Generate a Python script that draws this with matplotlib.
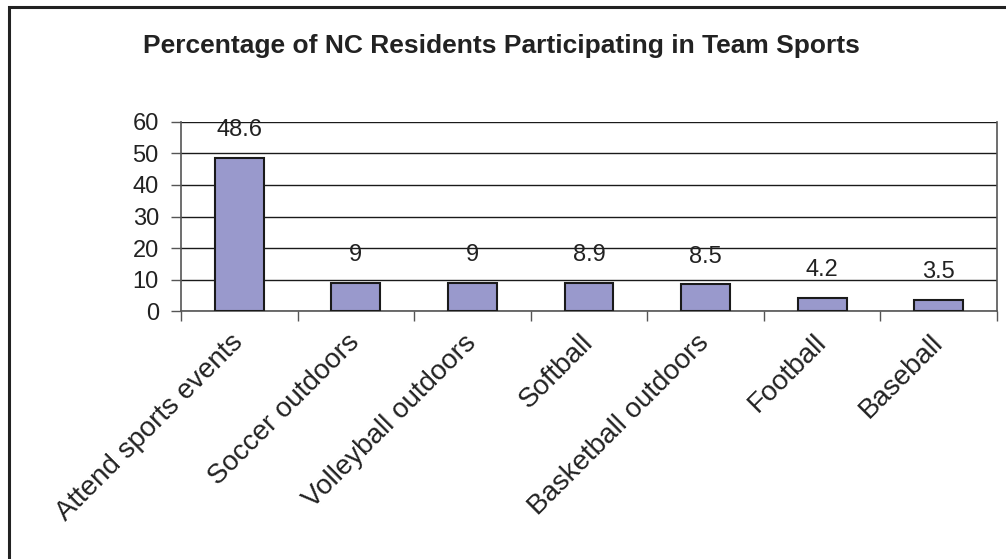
import matplotlib
matplotlib.use("Agg")
import matplotlib.pyplot as plt
from matplotlib.patches import Rectangle

categories = ["Attend sports events", "Soccer outdoors", "Volleyball outdoors",
              "Softball", "Basketball outdoors", "Football", "Baseball"]
values = [48.6, 9, 9, 8.9, 8.5, 4.2, 3.5]
value_labels = ["48.6", "9", "9", "8.9", "8.5", "4.2", "3.5"]
yticks = [0, 10, 20, 30, 40, 50, 60]

plt.rcParams['font.family'] = ['Liberation Sans', 'DejaVu Sans']

fig = plt.figure(figsize=(10.06, 5.59), dpi=100)
ax = fig.add_axes([0.18, 0.4436, 0.811, 0.3382])

x = list(range(len(categories)))
ax.bar(x, values, width=0.42, color="#9999CC", edgecolor="#1a1a1a", linewidth=1.5, zorder=3)

for xi, v, lab in zip(x, values, value_labels):
    ax.annotate(lab, (xi, v), xytext=(0, 12), textcoords="offset points",
                ha="center", va="bottom", fontsize=17, color="#222222", zorder=4)

ax.set_xlim(-0.5, len(categories) - 0.5)
ax.set_ylim(0, 60)
ax.set_yticks(yticks)
ax.set_yticklabels([str(t) for t in yticks], fontsize=17, color="#222222")
ax.yaxis.grid(True, color="#1a1a1a", linewidth=1.0, zorder=0)
ax.tick_params(axis="y", length=7, width=1, color="#555555", pad=9)

# category ticks at boundaries
ax.set_xticks([i - 0.5 for i in range(len(categories) + 1)], minor=False)
ax.set_xticklabels([""] * (len(categories) + 1))
ax.tick_params(axis="x", which="major", length=7, width=1, color="#555555")
ax.set_xticks(x, minor=True)
ax.set_xticklabels(categories, minor=True, rotation=45, ha="right", va="center",
                   rotation_mode="anchor", fontsize=20, color="#222222")
ax.tick_params(axis="x", which="minor", length=0, pad=20)

for s in ["left", "bottom", "right"]:
    ax.spines[s].set_color("#555555")
    ax.spines[s].set_linewidth(1.2)
ax.spines["top"].set_visible(False)

fig.text(0.498, 1 - 53 / 559, "Percentage of NC Residents Participating in Team Sports",
         ha="center", va="baseline", fontsize=19, fontweight="bold", color="#222222")

fig.patches.append(Rectangle((9 / 1006, -0.1), 1.2, 1 - 7 / 559 + 0.1,
                             transform=fig.transFigure, fill=False,
                             edgecolor="#222222", linewidth=2.2))

fig.savefig("out.png", dpi=100)
